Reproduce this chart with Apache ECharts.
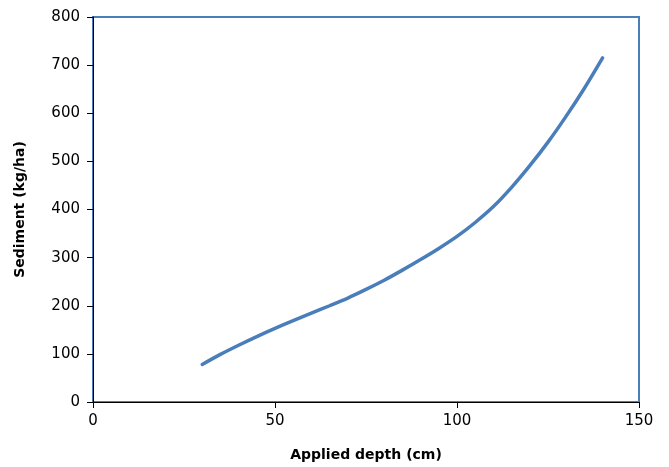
<!DOCTYPE html>
<html>
<head>
<meta charset="utf-8">
<script src="https://cdn.jsdelivr.net/npm/echarts@6/dist/echarts.min.js"></script>
<style>html,body{margin:0;padding:0;background:#fff}#c{width:669px;height:467px}</style>
</head>
<body>
<div id="c"></div>
<script>
const depth = [30, 35, 40, 45, 50, 55, 60, 65, 70, 75, 80, 85, 90, 95, 100, 105, 110, 115, 120, 125, 130, 135, 140];
const sediment = [78, 99, 118, 136, 153, 169, 184.5, 200, 216, 234, 253, 274, 296, 319, 344, 373, 406, 446, 491, 540, 594, 652, 715];
const xTicks = [0, 50, 100, 150];
const yTicks = [0, 100, 200, 300, 400, 500, 600, 700, 800];

const chart = echarts.init(document.getElementById('c'));
const font = '"DejaVu Sans", sans-serif';
chart.setOption({
  animation: false,
  grid: {left: 93, right: 30, top: 17, bottom: 64, show: true, borderColor: '#4a7ebb', borderWidth: 2, backgroundColor: 'transparent'},
  xAxis: {
    type: 'value', min: 0, max: 150, interval: 50,
    name: 'Applied depth (cm)', nameLocation: 'middle', nameGap: 46,
    nameTextStyle: {fontFamily: font, fontWeight: 'bold', fontSize: 14, color: '#000'},
    axisLine: {show: true, lineStyle: {color: '#000', width: 1}},
    axisTick: {show: true, length: 6, lineStyle: {color: '#000'}},
    axisLabel: {fontFamily: font, fontSize: 15, color: '#000', margin: 12,
      formatter: v => xTicks.includes(v) ? String(v) : ''},
    splitLine: {show: false}
  },
  yAxis: {
    type: 'value', min: 0, max: 800, interval: 100,
    name: 'Sediment (kg/ha)', nameLocation: 'middle', nameGap: 66, nameRotate: 90,
    nameTextStyle: {fontFamily: font, fontWeight: 'bold', fontSize: 14, color: '#000'},
    axisLine: {show: true, lineStyle: {color: '#000', width: 1}},
    axisTick: {show: true, length: 6, lineStyle: {color: '#000'}},
    axisLabel: {fontFamily: font, fontSize: 15, color: '#000', margin: 13,
      formatter: v => yTicks.includes(v) ? String(v) : ''},
    splitLine: {show: false}
  },
  series: [{
    type: 'line',
    data: depth.map((d, i) => [d, sediment[i]]),
    smooth: 0.3,
    showSymbol: false,
    lineStyle: {color: '#4a7ebb', width: 3.5, cap: 'round'}
  }]
});
</script>
</body>
</html>
